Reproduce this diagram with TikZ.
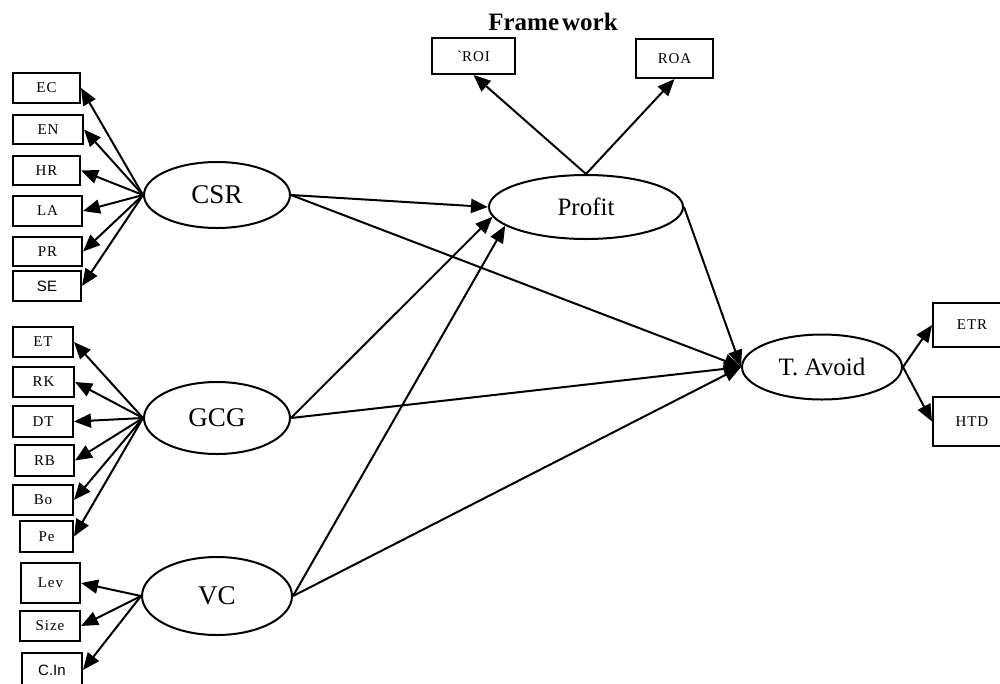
\documentclass[tikz,border=0pt]{standalone}
\usepackage{fontspec}
\setmainfont{Liberation Serif}
\newfontfamily\arialfont{Liberation Sans}
\newfontfamily\boxfont[LetterSpace=6]{Liberation Serif}
\usetikzlibrary{shapes.geometric,arrows.meta}

\tikzset{
  ind/.style={draw, line width=2pt, inner sep=0pt, font=\boxfont\fontsize{15}{15}\selectfont},
  sansind/.style={ind, font=\arialfont\fontsize{15}{15}\selectfont},
  lat/.style={draw, ellipse, line width=2pt, inner sep=0pt},
  big/.style={font=\fontsize{27}{27}\selectfont},
  mid/.style={font=\fontsize{25}{25}\selectfont},
  link/.style={line width=2pt, -{Triangle[length=17pt,width=14pt]}},
}

\begin{document}
\begin{tikzpicture}[x=1pt,y=-1pt]
\useasboundingbox (0,0) rectangle (1000,683);

% title
\node[anchor=base, font=\bfseries\fontsize{25}{25}\selectfont] (title) at (553,30) {Frame\kern3pt work};

% latent constructs
\node[lat, big, minimum width=146, minimum height=66] (csr) at (217,195) {CSR};
\node[lat, big, minimum width=146, minimum height=72] (gcg) at (217,418) {GCG};
\node[lat, big, minimum width=150, minimum height=78] (vc)  at (217,596) {VC};
\node[lat, mid, minimum width=194, minimum height=64] (profit) at (586,207) {Profit};
\node[lat, mid, minimum width=160, minimum height=65] (tav) at (822,367) {T. Avoid};

% CSR indicators
\node[ind, minimum width=67, minimum height=30] (ec) at (46.5,88) {EC};
\node[ind, minimum width=70, minimum height=29] (en) at (48,129.5) {EN};
\node[ind, minimum width=67, minimum height=29] (hr) at (46.5,170.5) {HR};
\node[ind, minimum width=69, minimum height=30] (la) at (47.5,211) {LA};
\node[ind, minimum width=69, minimum height=29] (pr) at (47.5,251.5) {PR};
\node[sansind, minimum width=68, minimum height=30] (se) at (47,286) {SE};

% GCG indicators
\node[ind, minimum width=60, minimum height=30] (et) at (43,342) {ET};
\node[ind, minimum width=61, minimum height=30] (rk) at (43.5,382) {RK};
\node[ind, minimum width=60, minimum height=31] (dt) at (43,421.5) {DT};
\node[ind, minimum width=59, minimum height=31] (rb) at (44.5,460.5) {RB};
\node[ind, minimum width=60, minimum height=30] (bo) at (43,500) {Bo};
\node[ind, minimum width=53, minimum height=31] (pe) at (46.5,536.5) {Pe};

% VC indicators
\node[ind, minimum width=59, minimum height=40] (lev) at (50.5,583) {Lev};
\node[ind, minimum width=60, minimum height=30] (size) at (50,626) {Size};
\node[sansind, minimum width=60, minimum height=34] (cin) at (52,670) {C.In};

% Profit indicators
\node[ind, minimum width=83, minimum height=36] (roi) at (473.5,56) {\textasciigrave ROI};
\node[ind, minimum width=77, minimum height=39] (roa) at (674.5,58.5) {ROA};

% tax avoidance indicators
\node[ind, minimum width=78, minimum height=44] (etr) at (972,325) {ETR};
\node[ind, minimum width=78, minimum height=49] (htd) at (972,421.5) {HTD};

% reflective loadings
\foreach \b in {ec,en,hr,la,pr,se} \draw[link] (csr.west) -- (\b.east);
\foreach \b in {et,rk,dt,rb,bo,pe} \draw[link] (gcg.west) -- (\b.east);
\foreach \b in {lev,size,cin} \draw[link] (vc.west) -- (\b.east);
\draw[link] (profit.north) -- (roi.south);
\draw[link] (profit.north) -- (roa.south);
\draw[link] (tav.east) -- (etr.west);
\draw[link] (tav.east) -- (htd.west);

% structural paths
\draw[link] (csr.east) -- (profit.west);
\draw[link] (gcg.east) -- (profit.186);
\draw[link] (vc.east) -- (profit.193);
\draw[link] (csr.east) -- (tav.west);
\draw[link] (gcg.east) -- (tav.west);
\draw[link] (vc.east) -- (tav.west);
\draw[link] (profit.east) -- (tav.west);
\end{tikzpicture}
\end{document}
